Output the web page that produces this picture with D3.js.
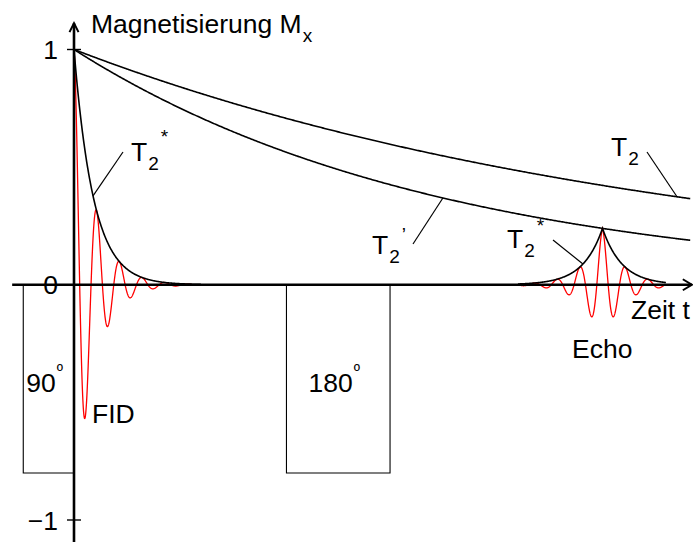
<!DOCTYPE html>
<html><head><meta charset="utf-8">
<script src="https://cdn.jsdelivr.net/npm/d3@7"></script>
<style>
body{margin:0;background:#fff}
text{font-family:"Liberation Sans",Arial,Helvetica,sans-serif;fill:#000}
</style></head><body>
<svg id="chart" width="693" height="542"></svg>
<script>
// Spin-echo sequence: transverse magnetisation M_x over time.
// Time is in arbitrary units; the 180° pulse sits at t = 5, the echo at t = 10.
const relaxNames = ["T2", "T2'", "T2*"];
const relaxTimes = [11.6, 7.0, 0.37];
const larmorPeriod = 0.43;
const echoTime = 10;
const pulseLabels = ["90", "180"];
const pulseStart = [-0.96, 4.02];
const pulseEnd = [0, 5.98];
const pulseLevel = [-0.8, -0.8];
const yTickValues = [1, 0, -1];
const timeExtent = [-1.17, 11.69];
const fidSpan = [0, 2.3];
const echoSpan = [8.4, 11.2];

const [T2, T2p, T2s] = relaxTimes;
const FS = "26.5px", FS_SMALL = "19px";

const svg = d3.select("#chart");
const x = d3.scaleLinear().domain([0, echoTime]).range([74, 602.5]);
const y = d3.scaleLinear().domain([-1, 1]).range([520, 49.5]);

const line = d3.line().x(d => x(d[0])).y(d => y(d[1])).curve(d3.curveLinear);
const sample = (a, b, step, f) => d3.range(a, b + step / 2, step).map(t => [t, f(t)]);

const fidEnv = t => Math.exp(-t / T2s);
const echoAmp = Math.exp(-echoTime / T2p);
const echoEnv = t => echoAmp * Math.exp(-Math.abs(t - echoTime) / T2s);
const osc = t => Math.cos(2 * Math.PI * t / larmorPeriod);

// RF pulses
const pulses = pulseLabels.map((l, i) => ({label: l, t0: pulseStart[i], t1: pulseEnd[i], v: pulseLevel[i]}));
svg.append("g").selectAll("path").data(pulses).join("path")
  .attr("d", d => `M${x(d.t0)},${y(0)}V${y(d.v)}H${x(d.t1)}V${y(0)}`)
  .attr("fill", "none").attr("stroke", "#000").attr("stroke-width", 1.1);

const pulseText = svg.append("g").selectAll("text").data(pulses).join("text")
  .attr("x", d => (x(d.t0) + x(d.t1)) / 2 - 4)
  .attr("y", d => y(d.v * 0.5) + 13)
  .attr("text-anchor", "middle")
  .style("font-size", FS);
pulseText.append("tspan").text(d => d.label);
pulseText.append("tspan").text("º").style("font-size", "17px").attr("dx", 1).attr("dy", -15);

// Decay curves T2 and T2'
svg.append("path").attr("d", line(sample(0, timeExtent[1] - 0.02, 0.02, t => Math.exp(-t / T2))))
  .attr("fill", "none").attr("stroke", "#000").attr("stroke-width", 1.6);
svg.append("path").attr("d", line(sample(0, timeExtent[1] - 0.02, 0.02, t => Math.exp(-t / T2p))))
  .attr("fill", "none").attr("stroke", "#000").attr("stroke-width", 1.6);

// FID and echo signals
svg.append("path").attr("d", line(sample(fidSpan[0], fidSpan[1], 0.004, t => fidEnv(t) * osc(t))))
  .attr("fill", "none").attr("stroke", "#ff0000").attr("stroke-width", 1.3);
svg.append("path").attr("d", line(sample(echoSpan[0], echoSpan[1], 0.004, t => echoEnv(t) * osc(t - echoTime))))
  .attr("fill", "none").attr("stroke", "#ff0000").attr("stroke-width", 1.3);

// T2* envelopes
svg.append("path").attr("d", line(sample(0, 2.4, 0.01, fidEnv)))
  .attr("fill", "none").attr("stroke", "#000").attr("stroke-width", 1.6);
svg.append("path").attr("d", line(sample(echoSpan[0], echoSpan[1], 0.01, echoEnv)))
  .attr("fill", "none").attr("stroke", "#000").attr("stroke-width", 1.6);

// Axes
const axes = svg.append("g").attr("stroke", "#000").attr("fill", "none");
axes.append("path").attr("d", `M${x(timeExtent[0])},${y(0)}H${x(timeExtent[1])}`).attr("stroke-width", 2.6);
axes.append("path").attr("d", `M${x(timeExtent[1]) - 9},${y(0) - 5.5}L${x(timeExtent[1])},${y(0)}L${x(timeExtent[1]) - 9},${y(0) + 5.5}`).attr("stroke-width", 2);
axes.append("path").attr("d", `M${x(0)},545V${y(1.112)}`).attr("stroke-width", 2.6);
axes.append("path").attr("d", `M${x(0) - 4.5},${y(1.112) + 9}L${x(0)},${y(1.112)}L${x(0) + 4.5},${y(1.112) + 9}`).attr("stroke-width", 2);

const yAxis = d3.axisLeft(y).tickValues(yTickValues).tickSize(0).tickPadding(16).tickFormat(d3.format("d"));
const yg = svg.append("g").attr("transform", `translate(${x(0)},0)`).call(yAxis);
yg.select(".domain").remove();
yg.selectAll("text").style("font-size", FS).attr("font-family", null).attr("dy", "0.34em");
svg.append("g").selectAll("line").data(yTickValues.filter(v => v !== 0)).join("line")
  .attr("x1", x(0) - 7).attr("x2", x(0) + 7).attr("y1", d => y(d)).attr("y2", d => y(d))
  .attr("stroke", "#000").attr("stroke-width", 1.4);

// Labels
function subLabel(px, py, main, sub, sup, supDx, supDy) {
  const t = svg.append("text").attr("x", px).attr("y", py).style("font-size", FS);
  t.append("tspan").text(main);
  t.append("tspan").text(sub).style("font-size", FS_SMALL).attr("dx", 1).attr("dy", 9);
  if (sup) t.append("tspan").text(sup).style("font-size", FS_SMALL).attr("dx", supDx).attr("dy", supDy);
  return t;
}
subLabel(91, 33, "Magnetisierung M", "x");
subLabel(131, 161, "T", "2", "*", 2, -27);
subLabel(611, 156, "T", "2");
subLabel(372, 254, "T", "2", "’", 2, -22);
subLabel(507, 248, "T", "2", "*", 2, -25);
svg.append("text").attr("x", 631).attr("y", 319).style("font-size", FS).text("Zeit t");
svg.append("text").attr("x", 572).attr("y", 358).style("font-size", FS).text("Echo");
svg.append("text").attr("x", 92).attr("y", 423).style("font-size", FS).text("FID");

// Leader lines from labels to their curves
const leaders = [
  {from: [647, 152], to: [x(11.41), y(Math.exp(-11.41 / T2))]},
  {from: [413, 244], to: [x(6.98), y(Math.exp(-6.98 / T2p))]},
  {from: [123, 152], to: [x(0.36), y(fidEnv(0.36))]},
  {from: [553, 240], to: [x(9.63), y(echoEnv(9.63))]}
];
svg.append("g").selectAll("line").data(leaders).join("line")
  .attr("x1", d => d.from[0]).attr("y1", d => d.from[1])
  .attr("x2", d => d.to[0]).attr("y2", d => d.to[1])
  .attr("stroke", "#000").attr("stroke-width", 1.2);
</script>
</body></html>
